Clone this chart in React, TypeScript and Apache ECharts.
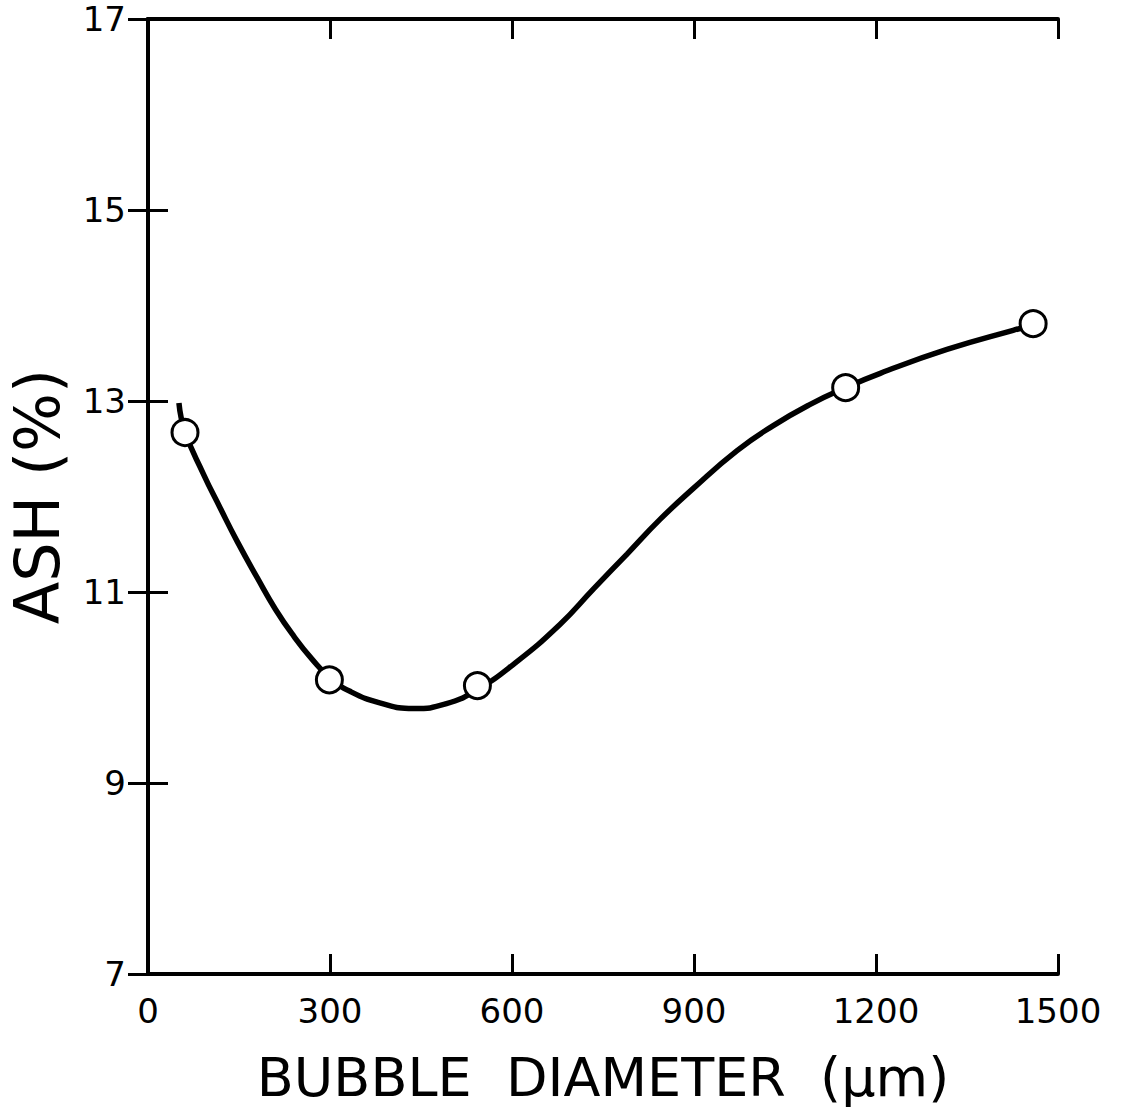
import React, { useEffect, useRef } from "react";
import * as echarts from "echarts";

const xTicks = [0, 300, 600, 900, 1200, 1500];
const yTicks = [7, 9, 11, 13, 15, 17];

// measured data points (bubble diameter µm, ash %)
const measuredPoints: [number, number][] = [
  [61, 12.67],
  [299, 10.08],
  [543, 10.02],
  [1150, 13.14],
  [1459, 13.81],
];

// fitted curve
const curvePoints: [number, number][] = [
  [51, 12.98],
  [61, 12.68],
  [91, 12.24],
  [119, 11.88],
  [147, 11.53],
  [180, 11.15],
  [210, 10.82],
  [240, 10.54],
  [270, 10.3],
  [300, 10.1],
  [333, 9.96],
  [382, 9.84],
  [437, 9.78],
  [492, 9.83],
  [543, 9.98],
  [602, 10.24],
  [679, 10.66],
  [734, 11.03],
  [790, 11.4],
  [844, 11.76],
  [898, 12.08],
  [971, 12.48],
  [1030, 12.74],
  [1090, 12.96],
  [1150, 13.14],
  [1207, 13.29],
  [1317, 13.54],
  [1426, 13.74],
  [1480, 13.83],
];

const FONT = "DejaVu Sans";

export default function App() {
  const ref = useRef<HTMLDivElement>(null);
  useEffect(() => {
    if (!ref.current) return;
    const chart = echarts.init(ref.current, undefined, { renderer: "svg" });
    const axisLine = { show: true, lineStyle: { color: "#000", width: 4 } };
    const tick = { show: true, inside: true, length: 20, lineStyle: { color: "#000", width: 3 } };
    const xMin = xTicks[0];
    const xMax = xTicks[xTicks.length - 1];
    const yMin = yTicks[0];
    const yMax = yTicks[yTicks.length - 1];
    const plain = (v: number) => String(v);
    chart.setOption({
      animation: false,
      backgroundColor: "#fff",
      grid: { left: 148, right: 67, top: 19, bottom: 139, containLabel: false, outerBoundsMode: "none" },
      xAxis: [
        {
          type: "value",
          position: "bottom",
          min: xMin,
          max: xMax,
          interval: 300,
          axisLine,
          axisTick: tick,
          splitLine: { show: false },
          axisLabel: { color: "#000", fontSize: 34, lineHeight: 34, fontFamily: FONT, margin: 20, formatter: plain },
          name: "BUBBLE  DIAMETER  (μm)",
          nameLocation: "middle",
          nameGap: 76,
          nameTextStyle: { color: "#000", fontSize: 54, fontFamily: FONT },
        },
        {
          type: "value",
          position: "top",
          min: xMin,
          max: xMax,
          interval: 300,
          axisLine,
          axisTick: tick,
          splitLine: { show: false },
          axisLabel: { show: false },
        },
      ],
      yAxis: [
        {
          type: "value",
          position: "left",
          min: yMin,
          max: yMax,
          interval: 2,
          axisLine,
          axisTick: tick,
          splitLine: { show: false },
          axisLabel: { color: "#000", fontSize: 34, lineHeight: 30, fontFamily: FONT, margin: 22, formatter: plain },
          name: "ASH (%)",
          nameLocation: "middle",
          nameRotate: 90,
          nameGap: 80,
          nameTextStyle: { color: "#000", fontSize: 62, fontFamily: FONT },
        },
        {
          type: "value",
          position: "right",
          min: yMin,
          max: yMax,
          interval: 2,
          axisLine,
          axisTick: tick,
          splitLine: { show: false },
          axisLabel: { show: false },
        },
      ],
      series: [
        {
          type: "line",
          xAxisIndex: 0,
          yAxisIndex: 0,
          data: curvePoints,
          smooth: 0.5,
          showSymbol: false,
          symbol: "none",
          lineStyle: { color: "#000", width: 5.5 },
          z: 2,
        },
        {
          type: "scatter",
          xAxisIndex: 0,
          yAxisIndex: 0,
          data: measuredPoints,
          symbol: "circle",
          symbolSize: 26,
          itemStyle: { color: "#fff", borderColor: "#000", borderWidth: 3, opacity: 1 },
          z: 3,
        },
      ],
    });
    return () => chart.dispose();
  }, []);
  return (
    <div
      ref={ref}
      style={{ position: "fixed", left: 0, top: 0, width: 1125, height: 1113, background: "#fff" }}
    />
  );
}
